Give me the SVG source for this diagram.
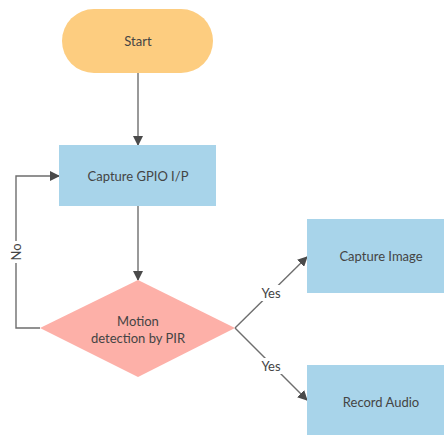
<svg xmlns="http://www.w3.org/2000/svg" width="444" height="435" viewBox="0 0 444 435">
<style>
text{font-family:Lato,"Open Sans","Liberation Sans",sans-serif;font-size:13px;fill:#444;text-anchor:middle;dominant-baseline:central}
.ln{fill:none;stroke:#6e6e6e;stroke-width:1.4}
.box{fill:#a8d4ea}
</style>
<defs>
<marker id="ah" markerWidth="10" markerHeight="10" refX="9" refY="5" orient="auto" markerUnits="userSpaceOnUse">
<path d="M0,0 L10,5 L0,10 Z" fill="#4a4a4a"/>
</marker>
</defs>
<rect width="444" height="435" fill="#fff"/>
<g id="connectors">
<path class="ln" d="M138,73 V145" marker-end="url(#ah)"/>
<path class="ln" d="M138,206 V280" marker-end="url(#ah)"/>
<path class="ln" d="M40,328 H16 V176 H59" marker-end="url(#ah)"/>
<path class="ln" d="M235,328 L307,257" marker-end="url(#ah)"/>
<path class="ln" d="M235,328 L307,400" marker-end="url(#ah)"/>
<rect x="259" y="285" width="24" height="16" fill="#fff"/>
<text x="271" y="293">Yes</text>
<rect x="259" y="358" width="24" height="16" fill="#fff"/>
<text x="271" y="366">Yes</text>
<rect x="8" y="241" width="16" height="22" fill="#fff"/>
<text x="16" y="252" transform="rotate(-90 16 252)">No</text>
</g>
<g id="start">
<rect x="62" y="9" width="151" height="64" rx="32" fill="#fdcd80"/>
<text x="138" y="41">Start</text>
</g>
<g id="capture-gpio">
<rect class="box" x="59" y="145" width="157" height="61"/>
<text x="138" y="176">Capture GPIO I/P</text>
</g>
<g id="motion">
<polygon points="138,280 235,328 138,377 40,328" fill="#fdb0a8"/>
<text x="138" y="321">Motion</text>
<text x="138" y="338">detection by PIR</text>
</g>
<g id="capture-image">
<rect class="box" x="307" y="219" width="137" height="74"/>
<text x="381" y="256">Capture Image</text>
</g>
<g id="record-audio">
<rect class="box" x="307" y="365" width="137" height="70"/>
<text x="381" y="402">Record Audio</text>
</g>
</svg>
